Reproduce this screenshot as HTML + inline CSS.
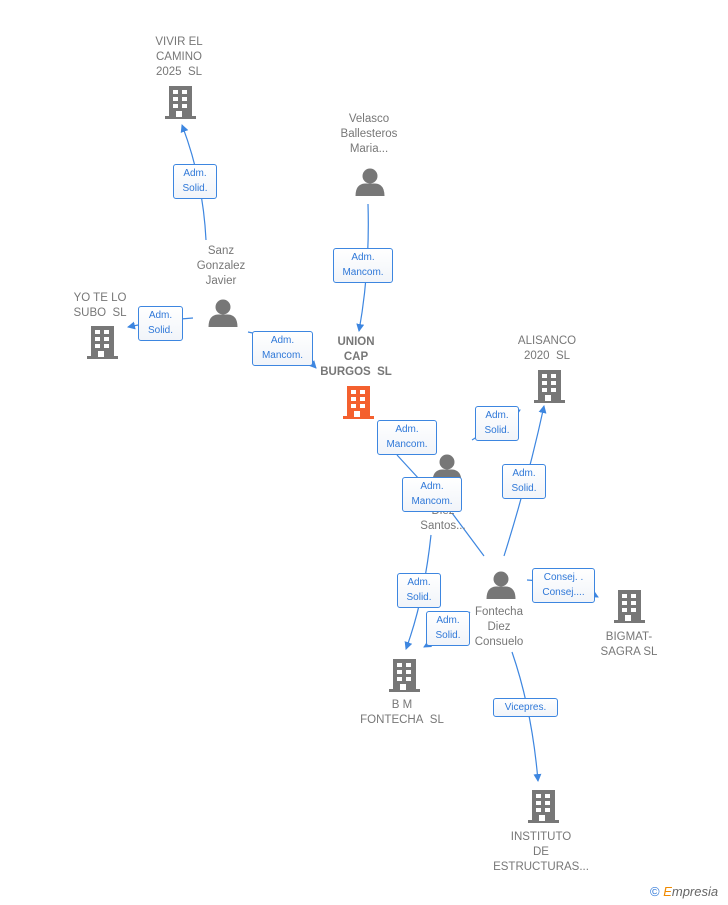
<!DOCTYPE html>
<html><head><meta charset="utf-8"><style>
body{margin:0;width:728px;height:905px;background:#fff;position:relative;overflow:hidden;font-family:"Liberation Sans",sans-serif}
.t{position:absolute;color:#777;font-size:11.5px;line-height:15px;text-align:center;width:120px;margin-left:-60px}
.b{font-weight:bold;color:#777}
.l{position:absolute;border:1px solid #3d86e0;border-radius:3px;background:linear-gradient(#fff,#f1f4f9);color:#2f78d8;font-size:10px;line-height:15px;text-align:center;padding:1px 0;box-sizing:border-box}
svg{position:absolute;left:0;top:0}
</style></head><body>
<svg width="728" height="905">
<defs>
<g id="bld"><rect x="-11" y="-16" width="23" height="31"/><rect x="-15" y="14" width="31" height="3"/>
<g fill="#fff"><rect x="-7" y="-12" width="5" height="4"/><rect x="2" y="-12" width="5" height="4"/><rect x="-7" y="-5" width="5" height="4"/><rect x="2" y="-5" width="5" height="4"/><rect x="-7" y="2" width="5" height="4"/><rect x="2" y="2" width="5" height="4"/><rect x="-4" y="9" width="6" height="6"/></g></g>
<g id="per"><circle cx="0" cy="-6" r="7.5"/><path d="M-14.5 14 Q-14.5 2 -5 1.5 L5 1.5 Q14.5 2 14.5 14 Z"/></g>
<marker id="a" markerWidth="8" markerHeight="8" refX="7" refY="4" orient="auto" markerUnits="userSpaceOnUse"><path d="M0 0 L8 4 L0 8 Z" fill="#3d86e0"/></marker>
</defs>
<g fill="#777">
<use href="#bld" x="180" y="102"/><use href="#bld" x="102" y="342"/><use href="#bld" x="549" y="386"/>
<use href="#bld" x="629" y="606"/><use href="#bld" x="404" y="675"/><use href="#bld" x="543" y="806"/>
<use href="#per" x="370" y="182"/><use href="#per" x="223" y="313"/><use href="#per" x="447" y="468"/><use href="#per" x="501" y="585"/>
</g>
<use href="#bld" x="358" y="402" fill="#f4602e"/>
<g stroke="#3d86e0" stroke-width="1.2" fill="none">
<path d="M206 240 Q203 180 182 125" marker-end="url(#a)"/>
<path d="M368 204 Q370 270 359 331" marker-end="url(#a)"/>
<path d="M248 332 Q290 340 316 368" marker-end="url(#a)"/>
<path d="M193 318 Q160 320 128 327" marker-end="url(#a)"/>
<path d="M397 455 L420 480"/>
<path d="M452 513 L484 556"/>
<path d="M472 440 L520 410" marker-end="url(#a)"/>
<path d="M504 556 Q528 480 544 406" marker-end="url(#a)"/>
<path d="M431 535 Q424 600 406 649" marker-end="url(#a)"/>
<path d="M470 612 Q445 635 424 647" marker-end="url(#a)"/>
<path d="M527 580 Q570 582 598 597" marker-end="url(#a)"/>
<path d="M512 652 Q532 710 538 781" marker-end="url(#a)"/>
</g>
</svg>
<div class="t" style="left:179px;top:35px">VIVIR EL<br>CAMINO<br>2025&nbsp; SL</div>
<div class="t" style="left:369px;top:112px">Velasco<br>Ballesteros<br>Maria...</div>
<div class="t" style="left:221px;top:244px">Sanz<br>Gonzalez<br>Javier</div>
<div class="t" style="left:100px;top:291px">YO TE LO<br>SUBO&nbsp; SL</div>
<div class="t b" style="left:356px;top:335px">UNION<br>CAP<br>BURGOS&nbsp; SL</div>
<div class="t" style="left:547px;top:334px">ALISANCO<br>2020&nbsp; SL</div>
<div class="t" style="left:443px;top:489px">&nbsp;&nbsp;&nbsp;&nbsp;&nbsp;&nbsp;&nbsp;na<br>Diez<br>Santos...</div>
<div class="t" style="left:499px;top:605px">Fontecha<br>Diez<br>Consuelo</div>
<div class="t" style="left:629px;top:630px">BIGMAT-<br>SAGRA SL</div>
<div class="t" style="left:402px;top:698px">B M<br>FONTECHA&nbsp; SL</div>
<div class="t" style="left:541px;top:830px">INSTITUTO<br>DE<br>ESTRUCTURAS...</div>
<div class="l" style="left:173px;top:164px;width:44px;height:35px">Adm.<br>Solid.</div>
<div class="l" style="left:333px;top:248px;width:60px;height:35px">Adm.<br>Mancom.</div>
<div class="l" style="left:138px;top:306px;width:45px;height:35px">Adm.<br>Solid.</div>
<div class="l" style="left:252px;top:331px;width:61px;height:35px">Adm.<br>Mancom.</div>
<div class="l" style="left:377px;top:420px;width:60px;height:35px">Adm.<br>Mancom.</div>
<div class="l" style="left:475px;top:406px;width:44px;height:35px">Adm.<br>Solid.</div>
<div class="l" style="left:402px;top:477px;width:60px;height:35px">Adm.<br>Mancom.</div>
<div class="l" style="left:502px;top:464px;width:44px;height:35px">Adm.<br>Solid.</div>
<div class="l" style="left:397px;top:573px;width:44px;height:35px">Adm.<br>Solid.</div>
<div class="l" style="left:532px;top:568px;width:63px;height:35px">Consej. .<br>Consej....</div>
<div class="l" style="left:426px;top:611px;width:44px;height:35px">Adm.<br>Solid.</div>
<div class="l" style="left:493px;top:698px;width:65px;height:19px">Vicepres.</div>
<div style="position:absolute;left:650px;top:884px;font-size:13px;color:#2f78d8">© <span style="color:#f08a00;font-style:italic">E</span><span style="color:#666;font-style:italic">mpresia</span></div>
</body></html>
